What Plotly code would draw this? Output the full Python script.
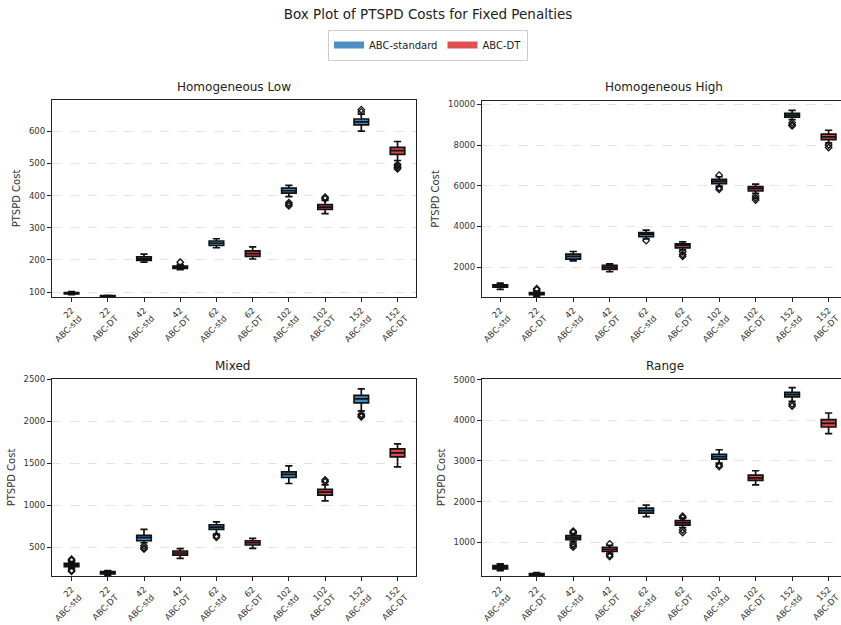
import plotly.graph_objects as go

W, H = 841, 625

categories = ["22<br>ABC-std", "22<br>ABC-DT", "42<br>ABC-std", "42<br>ABC-DT",
              "62<br>ABC-std", "62<br>ABC-DT", "102<br>ABC-std", "102<br>ABC-DT",
              "152<br>ABC-std", "152<br>ABC-DT"]

panel_titles = ["Homogeneous Low", "Homogeneous High", "Mixed", "Range"]

# Homogeneous Low
hl_lo  = [92, 85, 193, 170, 238, 203, 397, 344, 600, 509]
hl_q1  = [95, 86.5, 199, 174, 245, 211, 408, 357, 620, 528]
hl_med = [97, 88, 204, 178, 252, 220, 415, 364, 629, 540]
hl_q3  = [99, 89.5, 210, 181, 259, 228, 423, 372, 638, 550]
hl_hi  = [102, 90, 218, 186, 266, 241, 432, 385, 653, 568]
hl_out = [[], [], [], [193], [], [], [378, 373, 368], [390, 395], [660, 667], [497, 492, 487, 483]]

# Homogeneous High
hh_lo  = [900, 560, 2310, 1771, 3388, 2849, 5985, 5625, 9251, 8107]
hh_q1  = [1010, 640, 2392, 1886, 3502, 2947, 6099, 5740, 9365, 8271]
hh_med = [1070, 690, 2523, 1984, 3617, 3061, 6213, 5854, 9463, 8402]
hh_q3  = [1130, 750, 2637, 2082, 3698, 3143, 6311, 5952, 9561, 8532]
hh_hi  = [1210, 820, 2767, 2163, 3813, 3241, 6442, 6083, 9708, 8728]
hh_out = [[], [880, 940], [], [], [3300], [2750, 2620, 2530], [6520, 5900, 5820],
          [5500, 5400, 5300], [9100, 9000, 8950], [8000, 7880]]

# Mixed
mx_lo  = [251, 168, 555, 370, 658, 488, 1259, 1053, 2121, 1457]
mx_q1  = [271, 184, 579, 409, 713, 528, 1330, 1121, 2216, 1575]
mx_med = [290, 200, 615, 433, 741, 555, 1366, 1156, 2263, 1623]
mx_q3  = [310, 211, 642, 457, 769, 579, 1397, 1188, 2306, 1670]
mx_hi  = [330, 223, 713, 484, 804, 607, 1468, 1243, 2382, 1729]
mx_out = [[360, 345, 230, 215], [], [520, 495, 480], [], [640, 620], [], [],
          [1300, 1280], [2080, 2060, 2050], []]

# Range
rg_lo  = [302, 150, 1016, 729, 1632, 1361, 2947, 2413, 4466, 3670]
rg_q1  = [343, 180, 1066, 778, 1715, 1419, 3045, 2520, 4573, 3834]
rg_med = [384, 205, 1115, 828, 1780, 1476, 3103, 2585, 4631, 3924]
rg_q3  = [425, 230, 1164, 877, 1838, 1534, 3160, 2651, 4688, 4015]
rg_hi  = [466, 255, 1214, 926, 1912, 1591, 3275, 2758, 4803, 4179]
rg_out = [[], [], [1270, 1240, 960, 920, 880], [960, 690, 650], [], [1640, 1600, 1300, 1240],
          [2900, 2860], [], [4400, 4350], []]

panels = [
    (hl_lo, hl_q1, hl_med, hl_q3, hl_hi, hl_out),
    (hh_lo, hh_q1, hh_med, hh_q3, hh_hi, hh_out),
    (mx_lo, mx_q1, mx_med, mx_q3, mx_hi, mx_out),
    (rg_lo, rg_q1, rg_med, rg_q3, rg_hi, rg_out),
]

y_ranges = [[85, 697], [530, 10165], [160, 2500], [170, 5015]]
y_dticks = [100, 2000, 500, 1000]
x_ranges = [[-0.54, 9.51], [-0.5, 9.34], [-0.54, 9.51], [-0.5, 9.34]]

# pixel boxes (left, right, top, bottom)
pix = [(52, 416, 100, 297), (482, 841, 101, 297), (52, 416, 379, 576), (482, 841, 379, 576)]
title_pos = [(234, 87), (664, 87), (233, 366), (665, 366)]

series_names = ["ABC-standard", "ABC-DT"]
fill_colors = ["rgba(31,119,180,0.85)", "rgba(214,39,40,0.85)"]
legend_colors = ["#4a90c4", "#e05252"]

FONT = "DejaVu Sans"
fig = go.Figure()

for p, (lo, q1, med, q3, hi, out) in enumerate(panels):
    xa = "x" if p == 0 else f"x{p+1}"
    ya = "y" if p == 0 else f"y{p+1}"
    for s in range(2):
        idx = list(range(s, 10, 2))
        fig.add_trace(go.Box(
            x=[categories[i] for i in idx],
            q1=[q1[i] for i in idx], median=[med[i] for i in idx], q3=[q3[i] for i in idx],
            lowerfence=[lo[i] for i in idx], upperfence=[hi[i] for i in idx],
            fillcolor=fill_colors[s], line=dict(color="#111111", width=1.7),
            width=0.4, whiskerwidth=0.5, boxpoints=False,
            name=series_names[s], showlegend=False, xaxis=xa, yaxis=ya))
    ox, oy = [], []
    for i in range(10):
        for v in out[i]:
            ox.append(categories[i])
            oy.append(v)
    fig.add_trace(go.Scatter(
        x=ox, y=oy, mode="markers", showlegend=False, xaxis=xa, yaxis=ya,
        marker=dict(symbol="diamond-open", size=5, color="#111111", line=dict(width=1.3))))

# legend-only entries
for s in range(2):
    fig.add_trace(go.Scatter(x=[None], y=[None], mode="lines", name=series_names[s],
                             line=dict(color=legend_colors[s], width=7),
                             xaxis="x", yaxis="y"))

layout = dict(
    width=W, height=H,
    margin=dict(l=0, r=0, t=0, b=0),
    paper_bgcolor="white", plot_bgcolor="white",
    font=dict(family=FONT, size=10, color="#333333"),
    title=dict(text="Box Plot of PTSPD Costs for Fixed Penalties",
               x=428 / W, xanchor="center", y=1 - 14 / H, yanchor="middle",
               font=dict(size=13.5, color="#222222")),
    legend=dict(orientation="h", x=428 / W, xanchor="center", y=1 - 45 / H, yanchor="middle",
                bordercolor="#cccccc", borderwidth=1, font=dict(size=10, color="#222222"),
                itemwidth=30, bgcolor="white"),
    showlegend=True,
)

annotations = []
for p in range(4):
    l, r, t, b = pix[p]
    xk = "xaxis" if p == 0 else f"xaxis{p+1}"
    yk = "yaxis" if p == 0 else f"yaxis{p+1}"
    xa = "x" if p == 0 else f"x{p+1}"
    ya = "y" if p == 0 else f"y{p+1}"
    layout[xk] = dict(
        domain=[l / W, r / W], anchor=ya, type="category",
        categoryorder="array", categoryarray=categories,
        range=x_ranges[p], tickangle=-45, ticks="outside", ticklen=4, tickcolor="#222222",
        showline=True, mirror=True, linecolor="#222222", linewidth=1.3,
        showgrid=False, zeroline=False, automargin=False,
        tickfont=dict(size=8.5, color="#333333"))
    layout[yk] = dict(
        domain=[1 - b / H, 1 - t / H], anchor=xa,
        range=y_ranges[p], dtick=y_dticks[p], tick0=0, tickformat="d",
        ticks="outside", ticklen=4, tickcolor="#222222",
        showline=True, mirror=True, linecolor="#222222", linewidth=1.3,
        showgrid=True, gridcolor="#e3e3e3", griddash="dash", gridwidth=1,
        zeroline=False, automargin=False,
        tickfont=dict(size=8.5, color="#333333"),
        title=dict(text="PTSPD Cost", font=dict(size=10, color="#333333"), standoff=6))
    cx, cy = title_pos[p]
    annotations.append(dict(text=panel_titles[p], x=cx / W, y=1 - cy / H, xref="paper", yref="paper",
                            xanchor="center", yanchor="middle", showarrow=False,
                            font=dict(size=12, color="#222222")))
layout["annotations"] = annotations

fig.update_layout(**layout)
fig.write_html("out.html", config={"displayModeBar": False},
               post_script="document.body.style.margin='0';")
